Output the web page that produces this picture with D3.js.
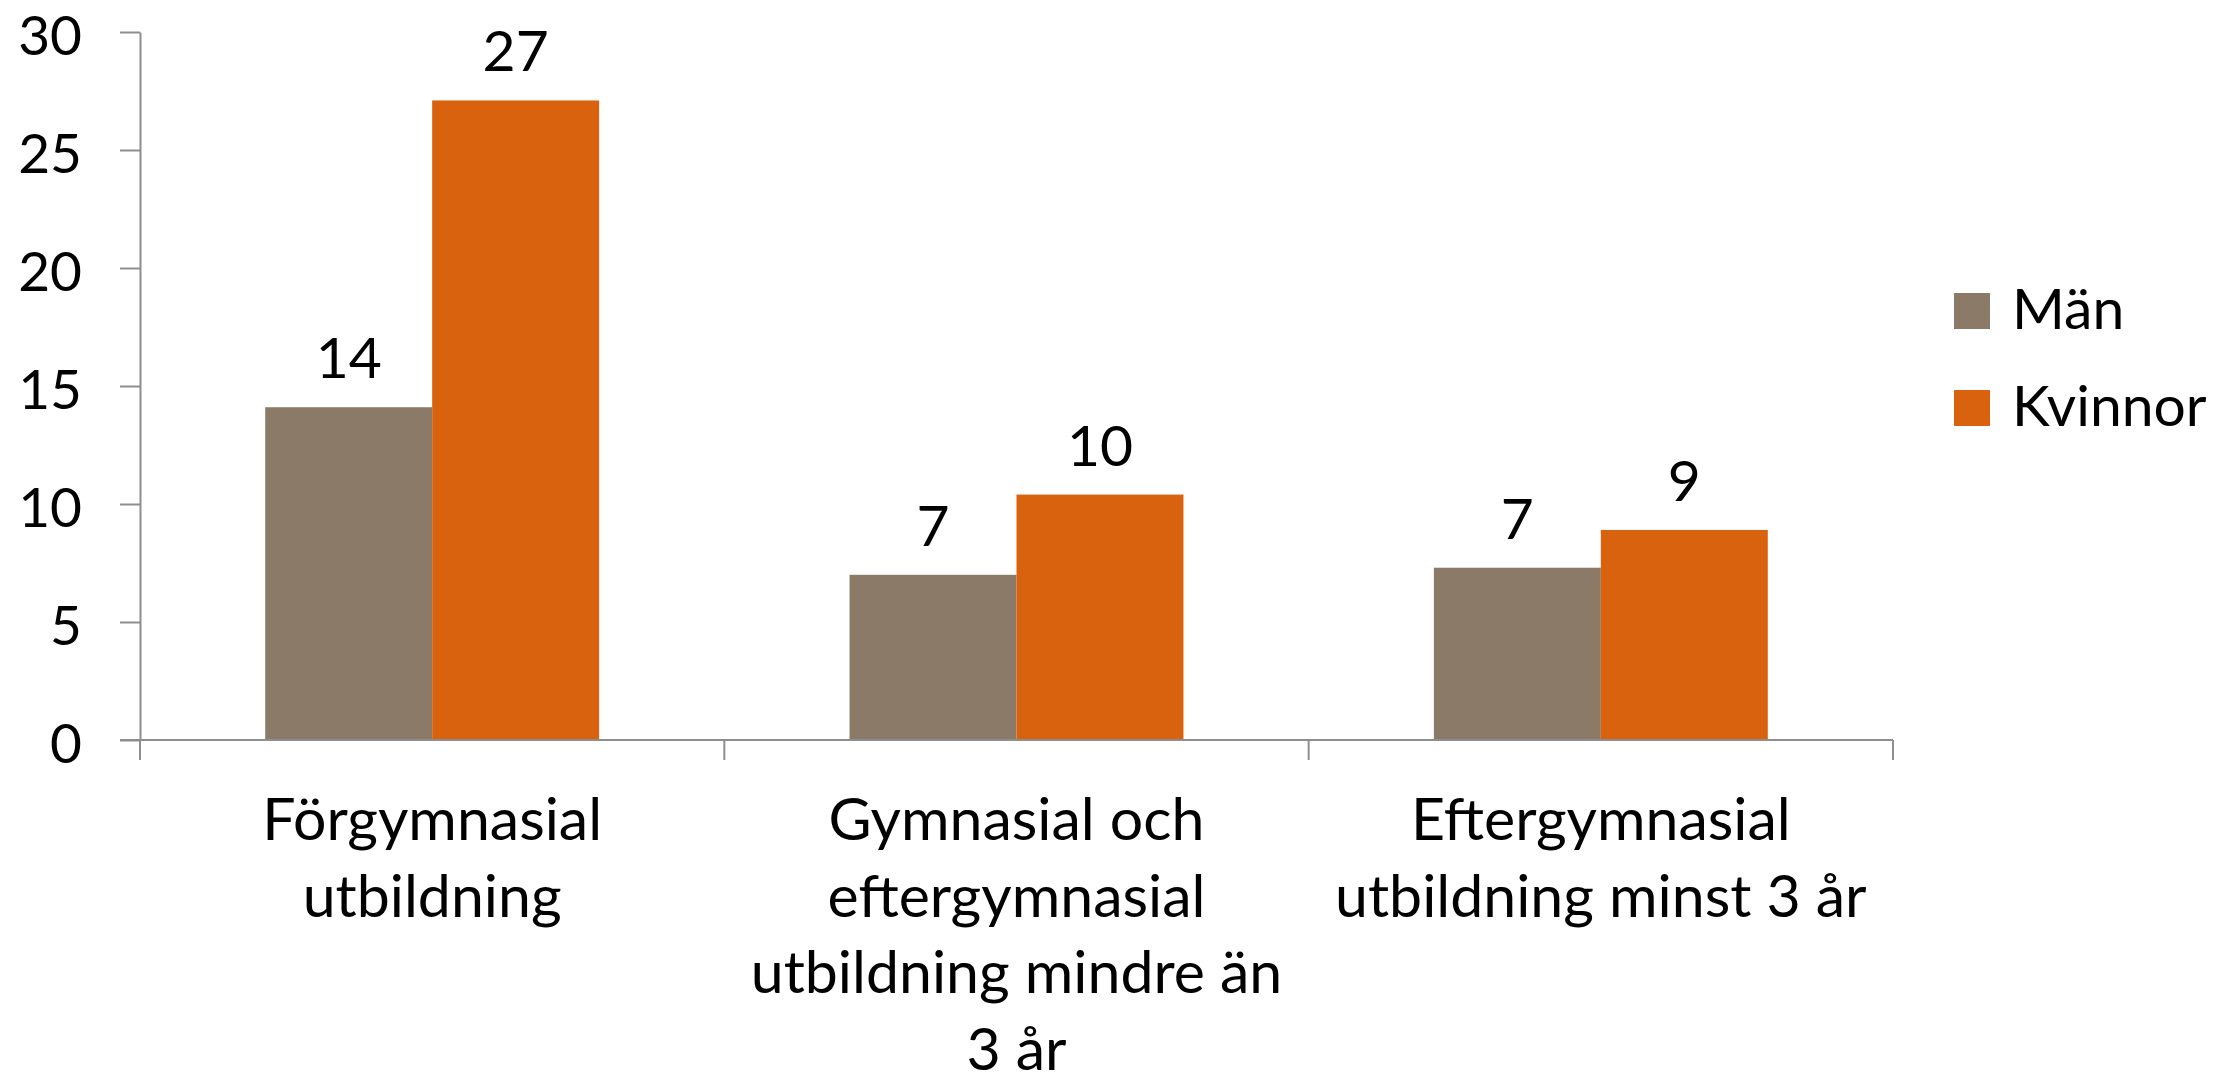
<!DOCTYPE html>
<html>
<head>
<meta charset="utf-8">
<script src="https://cdn.jsdelivr.net/npm/d3@7"></script>
<style>
    body { margin: 0; background: #fff; }
    text { font-family: Lato, "Open Sans", sans-serif; fill: #000; }
</style>
</head>
<body>
<div id="chart"></div>
<script>

// data
const categories = ["Förgymnasial utbildning",
    "Gymnasial och eftergymnasial utbildning mindre än 3 år",
    "Eftergymnasial utbildning minst 3 år"];
const labelLines = [["Förgymnasial", "utbildning"],
    ["Gymnasial och", "eftergymnasial", "utbildning mindre än", "3 år"],
    ["Eftergymnasial", "utbildning minst 3 år"]];
const series = ["Män", "Kvinnor"];
const manValues = [14.1, 7.0, 7.3];
const kvinnorValues = [27.1, 10.4, 8.9];
const yTicks = [0, 5, 10, 15, 20, 25, 30];
const colors = ["#8b7a67", "#d9620e"];

const W = 2234, H = 1081;
const axisColor = "#8e8e8e";

let svg = d3.select("#chart").append("svg")
    .attr("width", W)
    .attr("height", H);

let x = d3.scaleBand()
    .domain(categories)
    .range([140, 1893])
    .padding(0);

let xInner = d3.scaleBand()
    .domain(series)
    .range([0, x.bandwidth()])
    .paddingInner(0)
    .paddingOuter(0.75);

let y = d3.scaleLinear()
    .domain([0, 30])
    .range([740, 32]);

// y axis
let yAxis = svg.append("g")
    .attr("transform", "translate(140,0)")
    .call(d3.axisLeft(y).tickValues(yTicks).tickSize(20).tickSizeOuter(0).tickPadding(38));
yAxis.select(".domain").attr("stroke", axisColor).attr("stroke-width", 2);
yAxis.selectAll(".tick line").attr("stroke", axisColor).attr("stroke-width", 2);
yAxis.selectAll(".tick text")
    .style("font-size", "55px")
    .attr("fill", "#000")
    .attr("dy", "0.4em");

// bars
let rows = categories.map((c, i) => ({cat: c, values: [manValues[i], kvinnorValues[i]]}));

let groups = svg.selectAll(".group")
    .data(rows)
    .enter().append("g")
    .attr("class", "group")
    .attr("transform", d => "translate(" + x(d.cat) + ",0)");

groups.selectAll("rect")
    .data(d => d.values.map((v, j) => ({s: series[j], v: v, j: j})))
    .enter().append("rect")
    .attr("x", d => xInner(d.s))
    .attr("width", xInner.bandwidth())
    .attr("y", d => y(d.v))
    .attr("height", d => y(0) - y(d.v))
    .attr("fill", d => colors[d.j]);

groups.selectAll(".val")
    .data(d => d.values.map((v, j) => ({s: series[j], v: v})))
    .enter().append("text")
    .attr("class", "val")
    .attr("x", d => xInner(d.s) + xInner.bandwidth() / 2)
    .attr("y", d => y(d.v) - 29)
    .attr("text-anchor", "middle")
    .style("font-size", "57px")
    .text(d => Math.round(d.v));

// x axis
svg.append("line")
    .attr("x1", 120).attr("x2", x.range()[1])
    .attr("y1", y(0)).attr("y2", y(0))
    .attr("stroke", axisColor).attr("stroke-width", 2);

let bounds = categories.map(c => x(c)).concat([x.range()[1]]);
svg.selectAll(".xtick")
    .data(bounds)
    .enter().append("line")
    .attr("class", "xtick")
    .attr("x1", d => d).attr("x2", d => d)
    .attr("y1", y(0)).attr("y2", y(0) + 20)
    .attr("stroke", axisColor).attr("stroke-width", 2);

// category labels
svg.selectAll(".cat")
    .data(categories)
    .enter().append("text")
    .attr("class", "cat")
    .attr("text-anchor", "middle")
    .style("font-size", "59px")
    .each(function(d, i) {
        let t = d3.select(this);
        labelLines[i].forEach((line, k) => {
            t.append("tspan")
                .attr("x", x(d) + x.bandwidth() / 2)
                .attr("y", 840 + k * 76.5)
                .text(line);
        });
    });

// legend
let legend = svg.selectAll(".legend")
    .data(series)
    .enter().append("g")
    .attr("class", "legend")
    .attr("transform", (d, i) => "translate(1954," + (293 + i * 97) + ")");

legend.append("rect")
    .attr("width", 36)
    .attr("height", 36)
    .attr("fill", (d, i) => colors[i]);

legend.append("text")
    .attr("x", 58)
    .attr("y", 36)
    .style("font-size", "57px")
    .text(d => d);

</script>
</body>
</html>
